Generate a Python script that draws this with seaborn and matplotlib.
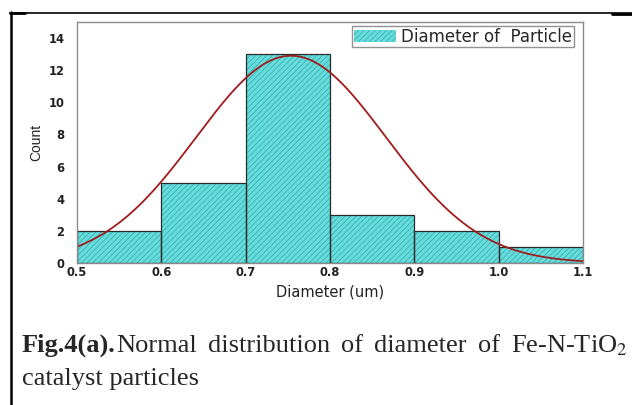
import numpy as np
import pandas as pd
import matplotlib
matplotlib.use("Agg")
import matplotlib.pyplot as plt
import seaborn as sns
from matplotlib.patches import Patch
from matplotlib.lines import Line2D

# ---- data ----
bin_edges = [0.5, 0.6, 0.7, 0.8, 0.9, 1.0, 1.1]
bin_centers = [0.55, 0.65, 0.75, 0.85, 0.95, 1.05]
counts = [2, 5, 13, 3, 2, 1]
curve_peak = 12.9
x_ticks = [0.5, 0.6, 0.7, 0.8, 0.9, 1.0, 1.1]
x_tick_labels = ["0.5", "0.6", "0.7", "0.8", "0.9", "1.0", "1.1"]
y_ticks = [0, 2, 4, 6, 8, 10, 12, 14]
legend_label = "Diameter of  Particle"
x_label = "Diameter (um)"
y_label = "Count"
caption_bold = "Fig.4(a)."
caption_words = ["Normal", "distribution", "of", "diameter", "of", "Fe-N-TiO$_2$"]
caption_line2 = "catalyst particles"

sns.set_style("white")
plt.rcParams["font.family"] = ["DejaVu Sans"]
plt.rcParams["mathtext.fontset"] = "stix"
plt.rcParams["hatch.linewidth"] = 0.55

df = pd.DataFrame({"center": bin_centers, "count": counts})

W, H = 632, 405
fig = plt.figure(figsize=(W / 100, H / 100), dpi=100)
ax = fig.add_axes([77 / W, 1 - 263 / H, 506 / W, 241 / H])

face = "#66dcdc"
hatch_col = "#3aabab"
edge = "#2a2a2a"

# hatched fill
sns.histplot(data=df, x="center", weights="count", bins=bin_edges, ax=ax,
             color=face, alpha=1, linewidth=0)
for p in ax.patches:
    p.set_hatch("//////")
    p.set_facecolor(face)
    p.set_edgecolor(hatch_col)
    p.set_linewidth(0)
n_fill = len(ax.patches)
# outlines
sns.histplot(data=df, x="center", weights="count", bins=bin_edges, ax=ax,
             fill=False, color=edge, linewidth=0.9)
for p in ax.patches[n_fill:]:
    p.set_edgecolor(edge)
    p.set_facecolor("none")
    p.set_linewidth(0.9)

# normal fit curve from the histogram's mean and sd
c = np.array(bin_centers)
w = np.array(counts)
mu = np.sum(c * w) / w.sum()
sd = np.sqrt(np.sum(w * (c - mu) ** 2) / w.sum())
xs = np.linspace(bin_edges[0], bin_edges[-1], 300)
ys = curve_peak * np.exp(-0.5 * ((xs - mu) / sd) ** 2)
sns.lineplot(x=xs, y=ys, ax=ax, color="#a01c1c", linewidth=1.3)

ax.set_xlim(0.5, 1.1)
ax.set_ylim(0, 15)
ax.set_xticks(x_ticks)
ax.set_xticklabels(x_tick_labels)
ax.set_yticks(y_ticks)
ax.tick_params(axis="both", length=0, labelsize=8.3, colors="#222222")
ax.tick_params(axis="x", pad=2)
ax.tick_params(axis="y", pad=9)
for lab in ax.get_xticklabels() + ax.get_yticklabels():
    lab.set_fontweight("bold")
for s in ax.spines.values():
    s.set_color("#8a8a8a")
    s.set_linewidth(1.0)

ax.set_xlabel(x_label, fontsize=10.5, color="#222222", labelpad=4)
ax.set_ylabel(y_label, fontsize=10, color="#222222", labelpad=4,
              family=["Liberation Sans Narrow", "Liberation Sans"])

handle = Patch(facecolor=face, edgecolor=hatch_col, hatch="//////", linewidth=0)
leg = ax.legend([handle], [legend_label], loc="upper right",
                bbox_to_anchor=((574 - 77) / 506, (263 - 26) / 241),
                fontsize=12, frameon=True, fancybox=False, edgecolor="#777777",
                borderaxespad=0, borderpad=0.1, handlelength=2.5,
                handleheight=0.75, handletextpad=0.35)
leg.get_frame().set_linewidth(1.0)

# page border lines
fig.add_artist(Line2D([10 / W, 1.0], [1 - 12.5 / H] * 2, color="black",
                      linewidth=1.2, transform=fig.transFigure))
fig.add_artist(Line2D([10 / W, 25 / W], [1 - 13 / H] * 2, color="black",
                      linewidth=2.0, transform=fig.transFigure))
fig.add_artist(Line2D([612 / W, 1.0], [1 - 13.5 / H] * 2, color="black",
                      linewidth=2.0, transform=fig.transFigure))
fig.add_artist(Line2D([11 / W] * 2, [1 - 12 / H, 0], color="black",
                      linewidth=1.8, transform=fig.transFigure))

# caption (first line justified between x=22 and x=628)
serif = ["Liberation Serif", "DejaVu Serif"]
fs = 19
left, right = 22, 628
base1 = 1 - 352 / H
r = fig.canvas.get_renderer()
t_b = fig.text(left / W, base1, caption_bold, fontsize=fs, fontweight="bold",
               family=serif, va="baseline", ha="left")
texts = [fig.text(0, base1, wd, fontsize=fs, family=serif, va="baseline",
                  ha="left") for wd in caption_words]
fig.canvas.draw()
wb = t_b.get_window_extent(r).width
widths = [t.get_window_extent(r).width for t in texts]
gap = (right - left - wb - sum(widths)) / (len(caption_words) - 1)
x = left + wb
for i, t in enumerate(texts):
    t.set_x(x / W)
    x += widths[i] + gap
fig.text(left / W, 1 - 385 / H, caption_line2, fontsize=fs,
         family=serif, va="baseline", ha="left")

fig.savefig("out.png", dpi=100)
